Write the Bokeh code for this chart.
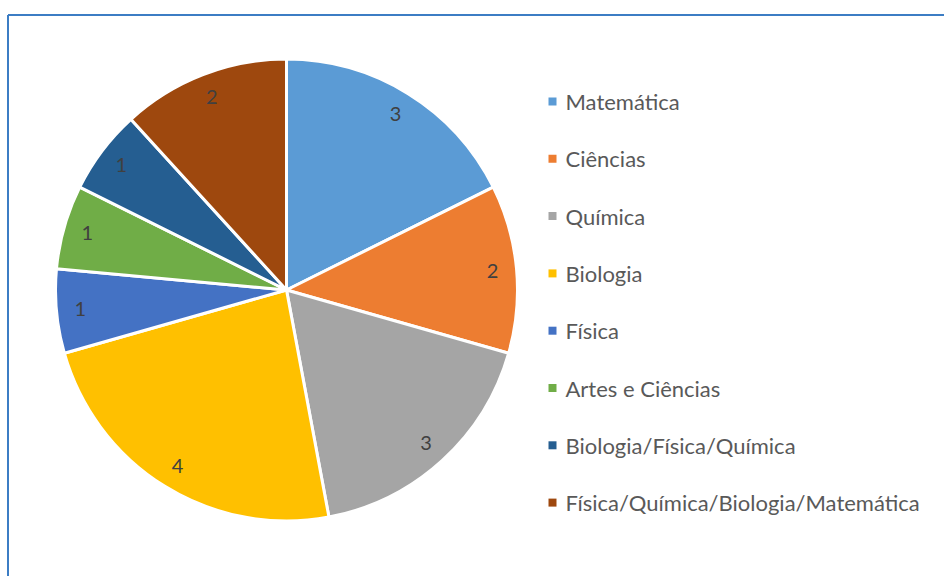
import numpy as np
from bokeh.plotting import figure
from bokeh.models import ColumnDataSource
from bokeh.core.properties import value
from bokeh.embed import file_html
from bokeh.resources import INLINE

categories = ["Matemática", "Ciências", "Química", "Biologia", "Física",
              "Artes e Ciências", "Biologia/Física/Química",
              "Física/Química/Biologia/Matemática"]
counts = [3, 2, 3, 4, 1, 1, 1, 2]
colors = ["#5B9BD5", "#ED7D31", "#A5A5A5", "#FFC000", "#4472C4",
          "#70AD47", "#255E91", "#9E480E"]

W, H = 944, 576
p = figure(width=W, height=H, x_range=(0, W), y_range=(0, H),
           output_backend="svg", toolbar_location=None,
           min_border=0, outline_line_color=None)
p.axis.visible = False
p.grid.visible = False

# frame (image coords -> data: x = sx, y = 576-sy)
p.line([7.5, 7.5], [-5, 561.5], line_color="#3C7DC4", line_width=2)
p.line([7.5, W + 5], [561.5, 561.5], line_color="#3C7DC4", line_width=2)

vals = np.array(counts, dtype=float)
total = vals.sum()
cum = np.concatenate([[0], np.cumsum(vals)])
frac0 = cum[:-1] / total
frac1 = cum[1:] / total
start = np.pi / 2 - frac0 * 2 * np.pi
end = np.pi / 2 - frac1 * 2 * np.pi
mid = (frac0 + frac1) / 2 * 2 * np.pi

cx, cy, R = 286.0, 286.5, 231.0
lr = 207.0
src = ColumnDataSource(dict(
    start=start, end=end, color=colors, cat=categories,
    lx=cx + lr * np.sin(mid), ly=cy + lr * np.cos(mid),
    lab=[str(c) for c in counts],
))
p.wedge(x=cx, y=cy, radius=R, radius_units="screen", start_angle="start",
        end_angle="end", direction="clock", fill_color="color",
        line_color="white", line_width=3, source=src)
p.text(x="lx", y="ly", text="lab", source=src, text_align="center",
       text_baseline="middle", text_font=value("Lato"),
       text_font_size="20px", text_color="#404040")

# legend
n = len(categories)
leg_y = 576 - (101 + np.arange(n) * 57.3)
lsrc = ColumnDataSource(dict(y=leg_y, color=colors, cat=categories))
p.rect(x=552, y="y", width=8, height=8, fill_color="color", line_color=None,
       source=lsrc)
p.text(x=565, y="y", text="cat", source=lsrc, text_align="left",
       text_baseline="middle", text_font=value("Lato"),
       text_font_size="22px", text_color="#595959")

open("out.html", "w").write(file_html(p, INLINE))
